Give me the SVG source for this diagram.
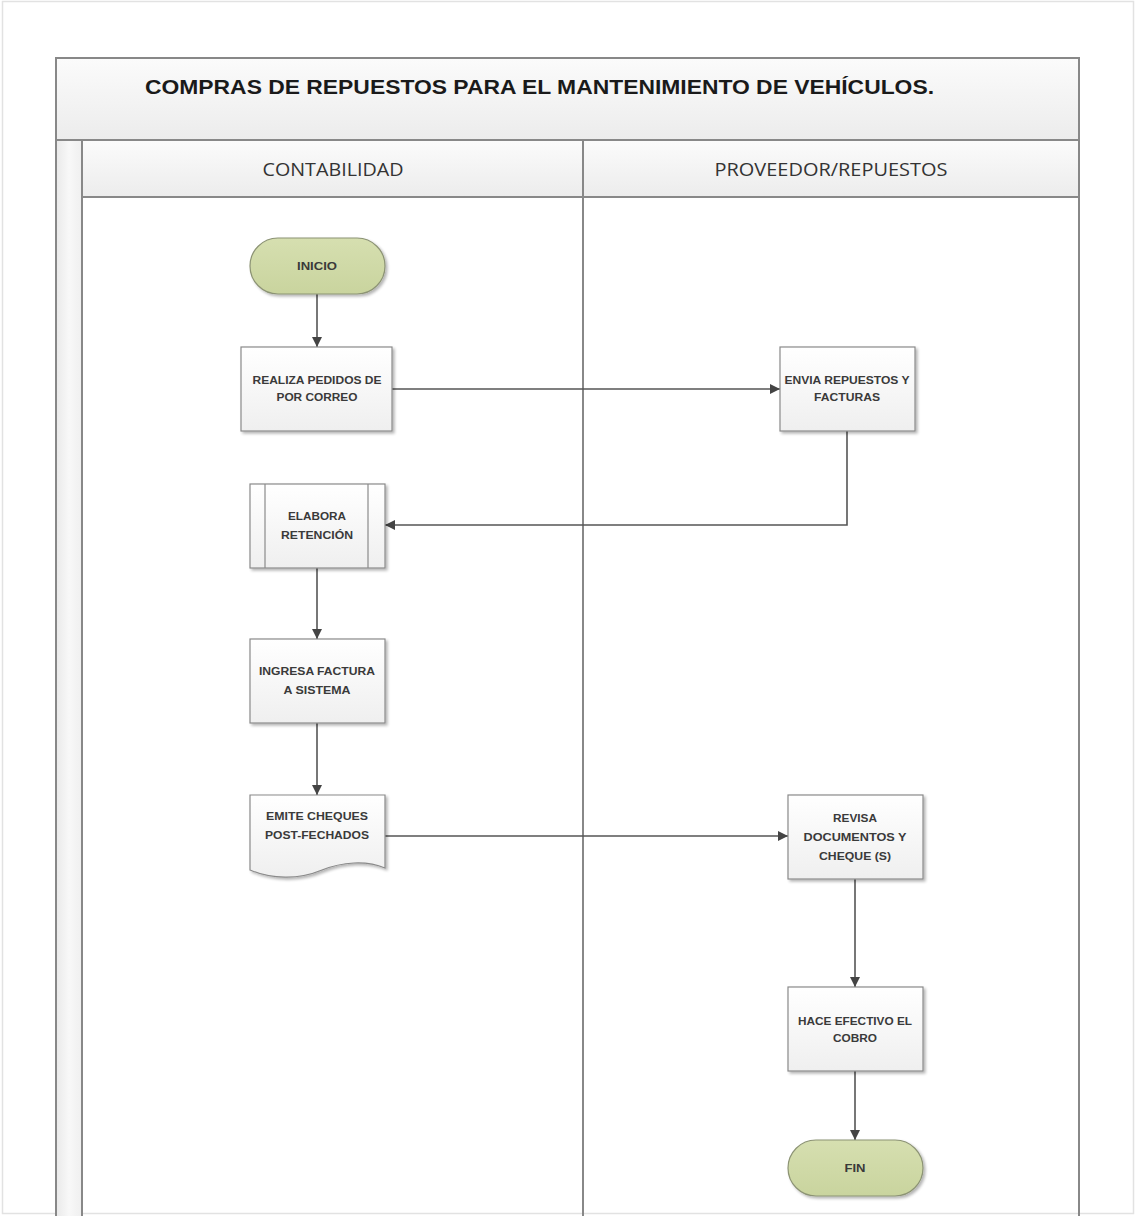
<svg xmlns="http://www.w3.org/2000/svg" width="1136" height="1216" viewBox="0 0 1136 1216">
  <defs>
    <linearGradient id="bandV" x1="0" y1="0" x2="0" y2="1">
      <stop offset="0" stop-color="#fbfbfb"/>
      <stop offset="1" stop-color="#ececec"/>
    </linearGradient>
    <linearGradient id="bandH" x1="0" y1="0" x2="1" y2="0">
      <stop offset="0" stop-color="#e9e9e9"/>
      <stop offset="0.5" stop-color="#f8f8f8"/>
      <stop offset="1" stop-color="#efefef"/>
    </linearGradient>
    <linearGradient id="boxFill" x1="0" y1="0" x2="0" y2="1">
      <stop offset="0" stop-color="#ffffff"/>
      <stop offset="1" stop-color="#efefef"/>
    </linearGradient>
    <linearGradient id="termFill" x1="0" y1="0" x2="0" y2="1">
      <stop offset="0" stop-color="#d6dfb0"/>
      <stop offset="1" stop-color="#c9d49e"/>
    </linearGradient>
    <filter id="shadow" x="-10%" y="-10%" width="130%" height="130%">
      <feGaussianBlur in="SourceAlpha" stdDeviation="1.5"/>
      <feOffset dx="2" dy="2" result="b"/>
      <feComponentTransfer><feFuncA type="linear" slope="0.3"/></feComponentTransfer>
      <feMerge><feMergeNode/><feMergeNode in="SourceGraphic"/></feMerge>
    </filter>
    <marker id="arrow" viewBox="0 0 10 10" refX="10" refY="5" markerWidth="10" markerHeight="10" markerUnits="userSpaceOnUse" orient="auto">
      <path d="M0,0 L10,5 L0,10 Z" fill="#444"/>
    </marker>
  </defs>
  <style>
    .frame { fill: none; stroke: #888; stroke-width: 2; }
    .box { fill: url(#boxFill); stroke: #8a8a8a; stroke-width: 1.2; filter: url(#shadow); }
    .term { fill: url(#termFill); stroke: #8c9374; stroke-width: 1.2; filter: url(#shadow); }
    .lbl { font-family: "Liberation Sans", Arial, sans-serif; font-weight: bold; font-size: 11.5px; fill: #3a3a3a; text-anchor: middle; dominant-baseline: central; }
    .lane { font-family: "Open Sans", "Liberation Sans", sans-serif; font-size: 19px; fill: #333; text-anchor: middle; dominant-baseline: central; }
    .title { font-family: "Liberation Sans", Arial, sans-serif; font-weight: bold; font-size: 20px; fill: #1a1a1a; }
    .conn { fill: none; stroke: #555; stroke-width: 1.6; marker-end: url(#arrow); }
  </style>

  <rect width="1136" height="1216" fill="#ffffff"/>
  <!-- page edge -->
  <rect x="2.5" y="1.5" width="1131" height="1212" fill="none" stroke="#e2e2e2" stroke-width="1.5"/>

  <!-- pool -->
  <g id="pool">
    <rect x="56" y="58" width="1023" height="82" fill="url(#bandV)"/>
    <rect x="56" y="140" width="26" height="1076" fill="url(#bandH)"/>
    <rect x="82" y="141" width="501" height="56" fill="url(#bandV)"/>
    <rect x="583" y="141" width="496" height="56" fill="url(#bandV)"/>
    <path class="frame" d="M56,1216 V58 H1079 V1216"/>
    <line class="frame" x1="56" y1="140" x2="1079" y2="140"/>
    <line class="frame" x1="82" y1="140" x2="82" y2="1216"/>
    <line class="frame" x1="583" y1="140" x2="583" y2="1216"/>
    <line class="frame" x1="82" y1="197" x2="1079" y2="197"/>
    <text class="title" x="145" y="94" textLength="789" lengthAdjust="spacingAndGlyphs">COMPRAS DE REPUESTOS PARA EL MANTENIMIENTO DE VEHÍCULOS.</text>
  </g>
  <g id="lane-contabilidad">
    <text class="lane" x="333" y="169" textLength="141" lengthAdjust="spacingAndGlyphs">CONTABILIDAD</text>
  </g>
  <g id="lane-proveedor">
    <text class="lane" x="831" y="169" textLength="233" lengthAdjust="spacingAndGlyphs">PROVEEDOR/REPUESTOS</text>
  </g>

  <!-- connectors -->
  <g id="connectors">
    <line class="conn" x1="317" y1="294" x2="317" y2="347"/>
    <line class="conn" x1="392" y1="389" x2="780" y2="389"/>
    <polyline class="conn" points="847,431 847,525 385,525"/>
    <line class="conn" x1="317" y1="568" x2="317" y2="639"/>
    <line class="conn" x1="317" y1="723" x2="317" y2="795"/>
    <line class="conn" x1="385" y1="836" x2="788" y2="836"/>
    <line class="conn" x1="855" y1="879" x2="855" y2="987"/>
    <line class="conn" x1="855" y1="1071" x2="855" y2="1140"/>
  </g>

  <!-- nodes -->
  <g id="inicio">
    <rect class="term" x="250" y="238" width="135" height="56" rx="28"/>
    <text class="lbl" x="317" y="266" textLength="40" lengthAdjust="spacingAndGlyphs">INICIO</text>
  </g>
  <g id="realiza-pedidos">
    <rect class="box" x="241" y="347" width="151" height="84"/>
    <text class="lbl" x="317" y="380" textLength="129" lengthAdjust="spacingAndGlyphs">REALIZA PEDIDOS DE</text>
    <text class="lbl" x="317" y="397" textLength="81" lengthAdjust="spacingAndGlyphs">POR CORREO</text>
  </g>
  <g id="envia-repuestos">
    <rect class="box" x="780" y="347" width="135" height="84"/>
    <text class="lbl" x="847" y="380" textLength="125" lengthAdjust="spacingAndGlyphs">ENVIA REPUESTOS Y</text>
    <text class="lbl" x="847" y="397" textLength="66" lengthAdjust="spacingAndGlyphs">FACTURAS</text>
  </g>
  <g id="elabora-retencion">
    <rect class="box" x="250" y="484" width="135" height="84"/>
    <line x1="265" y1="484" x2="265" y2="568" stroke="#8a8a8a" stroke-width="1.2"/>
    <line x1="368" y1="484" x2="368" y2="568" stroke="#8a8a8a" stroke-width="1.2"/>
    <text class="lbl" x="317" y="516" textLength="58" lengthAdjust="spacingAndGlyphs">ELABORA</text>
    <text class="lbl" x="317" y="535" textLength="72" lengthAdjust="spacingAndGlyphs">RETENCIÓN</text>
  </g>
  <g id="ingresa-factura">
    <rect class="box" x="250" y="639" width="135" height="84"/>
    <text class="lbl" x="317" y="671" textLength="116" lengthAdjust="spacingAndGlyphs">INGRESA FACTURA</text>
    <text class="lbl" x="317" y="690" textLength="67" lengthAdjust="spacingAndGlyphs">A SISTEMA</text>
  </g>
  <g id="emite-cheques">
    <path class="box" d="M250,795 H385 V868 C366,860 342,862 322,870 C298,880 272,879 250,870 Z"/>
    <text class="lbl" x="317" y="816" textLength="102" lengthAdjust="spacingAndGlyphs">EMITE CHEQUES</text>
    <text class="lbl" x="317" y="835" textLength="104" lengthAdjust="spacingAndGlyphs">POST-FECHADOS</text>
  </g>
  <g id="revisa-documentos">
    <rect class="box" x="788" y="795" width="135" height="84"/>
    <text class="lbl" x="855" y="818" textLength="44" lengthAdjust="spacingAndGlyphs">REVISA</text>
    <text class="lbl" x="855" y="837" textLength="103" lengthAdjust="spacingAndGlyphs">DOCUMENTOS Y</text>
    <text class="lbl" x="855" y="856" textLength="72" lengthAdjust="spacingAndGlyphs">CHEQUE (S)</text>
  </g>
  <g id="hace-efectivo">
    <rect class="box" x="788" y="987" width="135" height="84"/>
    <text class="lbl" x="855" y="1021" textLength="114" lengthAdjust="spacingAndGlyphs">HACE EFECTIVO EL</text>
    <text class="lbl" x="855" y="1038" textLength="44" lengthAdjust="spacingAndGlyphs">COBRO</text>
  </g>
  <g id="fin">
    <rect class="term" x="788" y="1140" width="135" height="56" rx="28"/>
    <text class="lbl" x="855" y="1168" textLength="21" lengthAdjust="spacingAndGlyphs">FIN</text>
  </g>
</svg>
